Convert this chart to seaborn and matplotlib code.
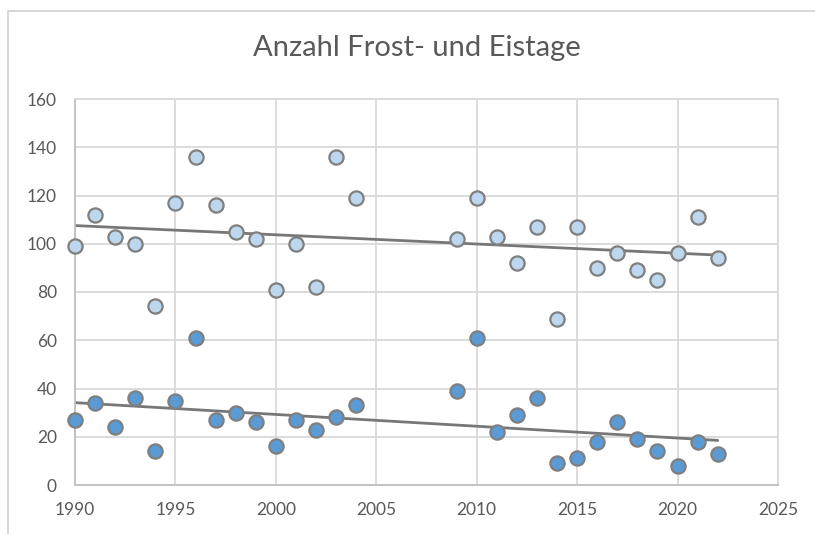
import matplotlib
matplotlib.use("Agg")
import matplotlib.pyplot as plt
import seaborn as sns
import pandas as pd
from matplotlib.patches import Rectangle

years = [1990, 1991, 1992, 1993, 1994, 1995, 1996, 1997, 1998, 1999, 2000, 2001, 2002, 2003, 2004,
         2009, 2010, 2011, 2012, 2013, 2014, 2015, 2016, 2017, 2018, 2019, 2020, 2021, 2022]
frosttage = [99, 112, 103, 100, 74, 117, 136, 116, 105, 102, 81, 100, 82, 136, 119,
             102, 119, 103, 92, 107, 69, 107, 90, 96, 89, 85, 96, 111, 94]
eistage = [27, 34, 24, 36, 14, 35, 61, 27, 30, 26, 16, 27, 23, 28, 33,
           39, 61, 22, 29, 36, 9, 11, 18, 26, 19, 14, 8, 18, 13]
title = "Anzahl Frost- und Eistage"
x_ticks = [1990, 1995, 2000, 2005, 2010, 2015, 2020, 2025]
y_ticks = [0, 20, 40, 60, 80, 100, 120, 140, 160]

df = pd.DataFrame({"Jahr": years, "Frosttage": frosttage, "Eistage": eistage})

sns.set_theme(style="white")
plt.rcParams["font.family"] = ["Lato", "DejaVu Sans"]

W, H = 815, 534
fig = plt.figure(figsize=(W / 100, H / 100), dpi=100)
ax = fig.add_axes([75 / W, 1 - 485 / H, (778 - 75) / W, (485 - 99) / H])

text_col = "#595959"
grid_col = "#d9d9d9"
edge_col = "#7f7f7f"
line_col = "#777777"

for col, fill in [("Frosttage", "#bdd7ee"), ("Eistage", "#5b9bd5")]:
    sns.regplot(data=df, x="Jahr", y=col, ax=ax, ci=None, truncate=True,
                scatter=False, line_kws=dict(color=line_col, lw=2.0, zorder=2))
    sns.scatterplot(data=df, x="Jahr", y=col, ax=ax, s=105, color=fill,
                    edgecolor=edge_col, linewidth=1.6, zorder=3, clip_on=False)

ax.set_xlim(1990, 2025)
ax.set_ylim(0, 160)
ax.set_xticks(x_ticks)
ax.set_yticks(y_ticks)
ax.set_xlabel("")
ax.set_ylabel("")
ax.grid(True, color=grid_col, lw=1.3, zorder=0)
ax.set_axisbelow(True)
for side in ["top", "right"]:
    ax.spines[side].set_color(grid_col)
    ax.spines[side].set_linewidth(1.3)
for side in ["left", "bottom"]:
    ax.spines[side].set_color("#bfbfbf")
    ax.spines[side].set_linewidth(1.3)
ax.tick_params(axis="both", length=0, labelsize=12.5, colors=text_col)
ax.tick_params(axis="y", pad=13)
ax.tick_params(axis="x", pad=12)

fig.text(417 / W, 1 - 48 / H, title, ha="center", va="center",
         fontsize=21, color=text_col)

fig.patches.append(Rectangle((8 / W, -0.1), 1.2, 1 - 11 / H + 0.1,
                             transform=fig.transFigure, fill=False,
                             edgecolor="#d0d0d0", lw=1.2, zorder=-1))

fig.savefig("out.png", dpi=100)
